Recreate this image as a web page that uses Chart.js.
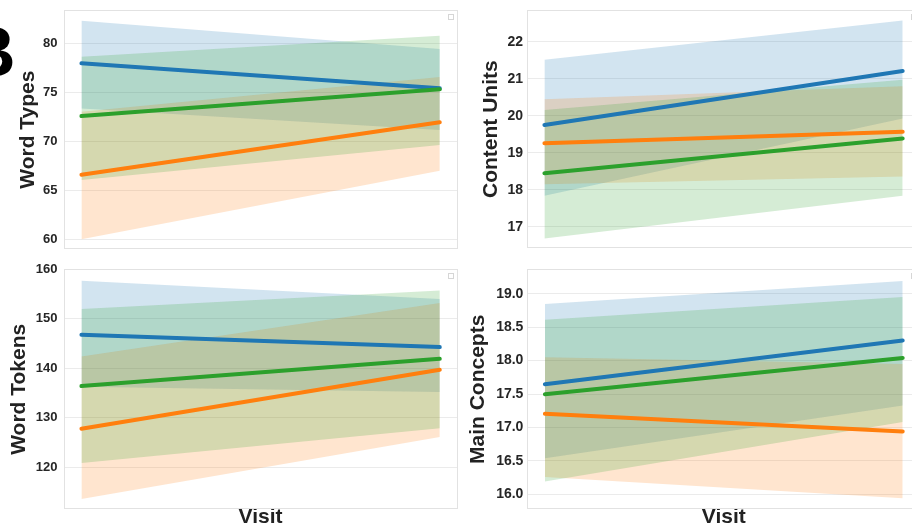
<!DOCTYPE html>
<html>
<head>
<meta charset="utf-8">
<script src="https://cdn.jsdelivr.net/npm/chart.js@4.4.0/dist/chart.umd.min.js"></script>
<style>
  html, body { margin: 0; padding: 0; background: #fff; }
  #fig { position: relative; width: 912px; height: 530px; overflow: hidden; }
  .panel { position: absolute; }
  #letter { position: absolute; left: -35px; top: 17px; font: bold 70px "Liberation Sans", Arial, sans-serif; line-height: 70px; color: #000; z-index: 5; }
</style>
</head>
<body>
<div id="fig">
  <div class="panel" style="left:0;top:0"><canvas id="types" width="460" height="256"></canvas></div>
  <div class="panel" style="left:462px;top:0"><canvas id="units" width="470" height="256"></canvas></div>
  <div class="panel" style="left:0;top:256px"><canvas id="tokens" width="460" height="274"></canvas></div>
  <div class="panel" style="left:462px;top:256px"><canvas id="concepts" width="470" height="274"></canvas></div>
  <div id="letter">B</div>
</div>
<script>
// x = visit, one value per visit; groups in order blue, orange, green
const visits = [1, 2];
const groupColors = ['31,119,180', '255,127,14', '44,160,44'];

// Word Types
const typesMean = [[78.0, 75.45], [66.63, 71.98], [72.62, 75.35]];
const typesLow  = [[73.4, 71.2], [60.05, 67.04], [66.1, 69.67]];
const typesHigh = [[82.35, 79.46], [73.06, 76.6], [78.67, 80.8]];
const typesTicks = [60, 65, 70, 75, 80];

// Content Units
const unitsMean = [[19.75, 21.21], [19.26, 19.57], [18.45, 19.39]];
const unitsLow  = [[17.84, 19.93], [18.15, 18.36], [16.69, 17.84]];
const unitsHigh = [[21.51, 22.57], [20.45, 20.8], [20.16, 20.97]];
const unitsTicks = [17, 18, 19, 20, 21, 22];

// Word Tokens
const tokensMean = [[146.77, 144.29], [127.79, 139.7], [136.41, 141.92]];
const tokensLow  = [[136.3, 135.2], [113.6, 126.1], [120.87, 127.9]];
const tokensHigh = [[157.67, 154.0], [142.4, 153.2], [152.0, 155.73]];
const tokensTicks = [120, 130, 140, 150, 160];

// Main Concepts
const conceptsMean = [[17.645, 18.30], [17.205, 16.94], [17.495, 18.04]];
const conceptsLow  = [[16.54, 17.33], [16.26, 15.94], [16.19, 17.08]];
const conceptsHigh = [[18.846, 19.19], [18.05, 17.95], [18.61, 18.95]];
const conceptsTicks = [16.0, 16.5, 17.0, 17.5, 18.0, 18.5, 19.0];

const FONT = '"Liberation Sans", Arial, sans-serif';

// box round the plot + the empty legend square
const frame = {
  id: 'frame',
  afterDatasetsDraw(chart) {
    const {ctx, chartArea: a} = chart;
    ctx.save();
    ctx.strokeStyle = '#e2e2e2';
    ctx.lineWidth = 1;
    ctx.strokeRect(Math.round(a.left) + 0.5, Math.round(a.top) + 0.5, Math.round(a.right - a.left) - 1, Math.round(a.bottom - a.top) - 1);
    ctx.strokeStyle = '#d6d6d6';
    ctx.strokeRect(Math.round(a.right - 10) + 0.5, Math.round(a.top + 4) + 0.5, 5, 5);
    ctx.restore();
  }
};

function pts(arr) { return visits.map((v, i) => ({x: v, y: arr[i]})); }

function makePanel(id, title, mean, low, high, yMin, yMax, ticks, o) {
  const bands = [], lines = [];
  for (let g = 0; g < 3; g++) {
    const c = groupColors[g];
    bands.push({ data: pts(high[g]), fill: '+1', backgroundColor: `rgba(${c},0.2)`, borderWidth: 0, pointRadius: 0 });
    bands.push({ data: pts(low[g]), fill: false, borderWidth: 0, pointRadius: 0 });
    lines.push({ data: pts(mean[g]), fill: false, borderColor: `rgb(${c})`, borderWidth: 4, borderCapStyle: 'round', pointRadius: 0 });
  }
  // bands under every line, green line on top
  const sets = bands.concat(lines);
  sets.forEach((s, i) => { s.order = sets.length - i; });

  new Chart(document.getElementById(id), {
    type: 'line',
    data: { datasets: sets },
    plugins: [frame],
    options: {
      responsive: false, animation: false,
      layout: { padding: o.pad },
      plugins: { legend: { display: false }, tooltip: { enabled: false } },
      scales: {
        x: {
          type: 'linear', min: 0.95, max: 2.05,
          display: !!o.xTitle,
          ticks: { display: false },
          grid: { display: false },
          border: { display: false },
          title: { display: !!o.xTitle, text: o.xTitle, color: '#222', font: { family: FONT, size: 21, weight: 'bold' }, padding: { top: 0, bottom: 0 } },
          afterFit: s => { s.height = o.xHeight || 0; s.paddingLeft = 0; s.paddingRight = 0; }
        },
        y: {
          min: yMin, max: yMax,
          afterBuildTicks: s => { s.ticks = ticks.map(v => ({ value: v })); },
          afterFit: s => { s.width = o.yWidth; s.paddingTop = 0; s.paddingBottom = 0; },
          ticks: { padding: o.tickPad, color: '#262626', font: { family: FONT, size: o.tickSize, weight: 'bold' },
                   callback: v => v.toFixed(o.decimals || 0) },
          grid: { color: '#ebebeb', drawTicks: false },
          border: { display: false },
          title: { display: true, text: title, color: '#222', font: { family: FONT, size: 21, weight: 'bold' }, padding: { top: o.titlePad, bottom: 0 } }
        }
      }
    }
  });
}

makePanel('types', 'Word Types', typesMean, typesLow, typesHigh, 59.02, 83.44, typesTicks,
  { pad: { top: 10, right: 2.3, bottom: 6.7, left: 0 }, yWidth: 63.5, tickPad: 6, tickSize: 13, titlePad: 15.5 });
makePanel('units', 'Content Units', unitsMean, unitsLow, unitsHigh, 16.425, 22.855, unitsTicks,
  { pad: { top: 10, right: 11.4, bottom: 7.7, left: 0 }, yWidth: 64.5, tickPad: 3.4, tickSize: 14, titlePad: 16.5 });
makePanel('tokens', 'Word Tokens', tokensMean, tokensLow, tokensHigh, 111.52, 160, tokensTicks,
  { pad: { top: 13.3, right: 2.3, bottom: 0, left: 0 }, yWidth: 63.5, tickPad: 6, tickSize: 13, titlePad: 6.8, xTitle: 'Visit', xHeight: 20.7 });
makePanel('concepts', 'Main Concepts', conceptsMean, conceptsLow, conceptsHigh, 15.776, 19.365, conceptsTicks,
  { pad: { top: 13.3, right: 11.4, bottom: 0, left: 0 }, yWidth: 65, tickPad: 3.6, tickSize: 14, titlePad: 3.5, xTitle: 'Visit', xHeight: 20.7, decimals: 1 });
</script>
</body>
</html>
